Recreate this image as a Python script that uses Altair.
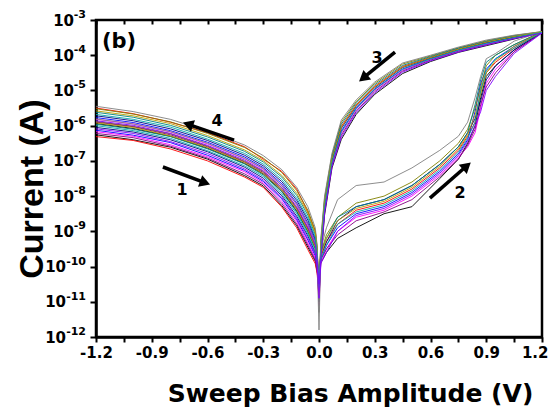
import altair as alt
import pandas as pd

# ---------------- data (log10 of current, A) ----------------
NEG_V = [-1.2, -1.0, -0.8, -0.6, -0.4, -0.3, -0.2, -0.12, -0.06, -0.02, -0.01]
UP_V = [0.01, 0.04, 0.1, 0.2, 0.35, 0.5, 0.65, 0.75, 0.8, 0.84, 0.87, 0.9, 0.95, 1.05, 1.2]
DOWN_V = [1.05, 0.9, 0.75, 0.6, 0.45, 0.3, 0.2, 0.12, 0.07, 0.03, 0.01]

# sweep 1: -1.2 V -> 0 V
B1_EXP = [
    [-6.26, -6.40, -6.61, -6.95, -7.42, -7.71, -8.27, -8.84, -9.45, -9.85, -10.16],
    [-6.31, -6.42, -6.66, -7.00, -7.46, -7.75, -8.31, -8.90, -9.52, -9.92, -10.20],
    [-6.13, -6.27, -6.48, -6.84, -7.27, -7.58, -8.08, -8.67, -9.25, -9.70, -10.04],
    [-6.17, -6.30, -6.54, -6.88, -7.31, -7.62, -8.15, -8.72, -9.33, -9.76, -10.08],
    [-5.88, -6.02, -6.23, -6.58, -7.01, -7.30, -7.77, -8.33, -8.91, -9.40, -9.80],
    [-6.05, -6.18, -6.40, -6.74, -7.18, -7.49, -7.99, -8.57, -9.13, -9.61, -9.96],
    [-6.22, -6.34, -6.58, -6.92, -7.37, -7.66, -8.21, -8.79, -9.39, -9.81, -10.12],
    [-5.96, -6.10, -6.31, -6.66, -7.09, -7.40, -7.88, -8.45, -9.02, -9.50, -9.88],
    [-5.81, -5.95, -6.17, -6.50, -6.93, -7.22, -7.70, -8.23, -8.80, -9.33, -9.74],
    [-5.92, -6.05, -6.29, -6.62, -7.05, -7.36, -7.83, -8.38, -8.97, -9.45, -9.84],
    [-6.00, -6.14, -6.36, -6.71, -7.14, -7.44, -7.94, -8.50, -9.08, -9.56, -9.92],
    [-6.09, -6.22, -6.45, -6.79, -7.23, -7.54, -8.04, -8.62, -9.20, -9.65, -10.00],
]
# sweep 2: 0 V -> 1.2 V (high-resistance branch)
B2_EXP = [
    [-9.9, -9.6, -9.2, -8.9, -8.5, -8.3, -7.5, -6.95, -6.5, -6.0, -5.2, -4.6, -4.3, -3.85, -3.35],
    [-9.7, -9.3, -8.8, -8.4, -8.2, -7.8, -7.2, -6.7, -6.3, -5.9, -5.0, -4.5, -4.2, -3.8, -3.35],
    [-9.8, -9.4, -8.9, -8.5, -8.3, -7.9, -7.3, -6.8, -6.4, -5.6, -4.8, -4.4, -4.1, -3.75, -3.34],
    [-9.9, -9.5, -9.0, -8.6, -8.4, -8.0, -7.4, -6.9, -6.6, -6.2, -5.5, -4.8, -4.4, -3.9, -3.36],
    [-9.6, -9.1, -8.6, -8.2, -8.0, -7.6, -7.0, -6.5, -6.1, -5.5, -4.9, -4.3, -4.0, -3.7, -3.33],
    [-9.7, -9.3, -8.7, -8.3, -8.1, -7.7, -7.1, -6.6, -6.2, -5.8, -5.3, -4.7, -4.3, -3.85, -3.35],
    [-9.8, -9.5, -9.1, -8.7, -8.45, -8.1, -7.45, -6.95, -6.55, -6.1, -5.4, -4.9, -4.5, -3.9, -3.36],
    [-9.6, -9.2, -8.6, -8.3, -8.1, -7.7, -7.1, -6.6, -6.2, -5.4, -4.7, -4.2, -4.0, -3.7, -3.34],
    [-9.5, -8.9, -8.1, -7.7, -7.6, -7.2, -6.7, -6.3, -5.9, -5.2, -4.6, -4.1, -3.95, -3.6, -3.33],
    [-9.7, -9.2, -8.7, -8.35, -8.15, -7.75, -7.15, -6.65, -6.25, -5.7, -5.1, -4.5, -4.15, -3.75, -3.34],
    [-9.8, -9.4, -8.8, -8.45, -8.25, -7.85, -7.25, -6.75, -6.35, -5.9, -5.0, -4.45, -4.1, -3.8, -3.35],
    [-9.9, -9.6, -9.0, -8.55, -8.35, -7.95, -7.35, -6.85, -6.45, -6.0, -5.6, -5.0, -4.6, -3.95, -3.37],
]
# sweep 3: 1.2 V -> 0 V (low-resistance branch)
B3_EXP = [
    [-3.54, -3.73, -3.92, -4.18, -4.52, -5.11, -5.68, -6.39, -7.20, -8.54, -9.83],
    [-3.47, -3.62, -3.82, -4.06, -4.32, -4.88, -5.41, -6.02, -6.92, -8.18, -9.41],
    [-3.49, -3.66, -3.86, -4.10, -4.39, -4.96, -5.50, -6.15, -7.02, -8.30, -9.55],
    [-3.50, -3.68, -3.87, -4.12, -4.42, -4.99, -5.54, -6.21, -7.06, -8.36, -9.62],
    [-3.44, -3.59, -3.79, -4.02, -4.25, -4.80, -5.32, -5.90, -6.83, -8.06, -9.27],
    [-3.48, -3.64, -3.84, -4.08, -4.35, -4.92, -5.45, -6.08, -6.97, -8.24, -9.48],
    [-3.51, -3.70, -3.89, -4.14, -4.45, -5.03, -5.59, -6.27, -7.11, -8.42, -9.69],
    [-3.45, -3.61, -3.80, -4.04, -4.29, -4.84, -5.36, -5.96, -6.87, -8.12, -9.34],
    [-3.43, -3.57, -3.77, -4.00, -4.22, -4.76, -5.27, -5.84, -6.78, -8.00, -9.20],
    [-3.47, -3.63, -3.83, -4.07, -4.34, -4.90, -5.43, -6.05, -6.94, -8.21, -9.45],
    [-3.50, -3.67, -3.86, -4.11, -4.40, -4.97, -5.52, -6.18, -7.04, -8.33, -9.59],
    [-3.53, -3.71, -3.91, -4.16, -4.48, -5.07, -5.63, -6.33, -7.16, -8.48, -9.76],
]
# sweep 4: 0 V -> -1.2 V (listed at NEG_V, swept in reverse)
B4_EXP = [
    [-5.94, -6.08, -6.30, -6.64, -7.07, -7.37, -7.86, -8.42, -9.00, -9.48, -9.86],
    [-5.50, -5.66, -5.90, -6.20, -6.60, -6.95, -7.30, -7.80, -8.45, -9.00, -9.50],
    [-5.77, -5.91, -6.14, -6.47, -6.89, -7.19, -7.65, -8.19, -8.76, -9.28, -9.70],
    [-5.82, -5.95, -6.18, -6.52, -6.94, -7.24, -7.70, -8.24, -8.82, -9.33, -9.74],
    [-5.52, -5.67, -5.89, -6.22, -6.62, -6.92, -7.33, -7.84, -8.40, -8.98, -9.46],
    [-5.72, -5.86, -6.09, -6.42, -6.84, -7.14, -7.59, -8.12, -8.68, -9.22, -9.66],
    [-5.90, -6.03, -6.26, -6.60, -7.03, -7.33, -7.81, -8.36, -8.94, -9.43, -9.82],
    [-5.62, -5.76, -5.99, -6.32, -6.73, -7.03, -7.46, -7.98, -8.54, -9.10, -9.56],
    [-5.45, -5.60, -5.82, -6.15, -6.55, -6.85, -7.25, -7.75, -8.30, -8.90, -9.40],
    [-5.58, -5.72, -5.94, -6.28, -6.69, -6.99, -7.41, -7.92, -8.48, -9.05, -9.52],
    [-5.68, -5.82, -6.04, -6.38, -6.79, -7.09, -7.53, -8.06, -8.62, -9.17, -9.62],
    [-5.86, -5.99, -6.22, -6.56, -6.98, -7.28, -7.75, -8.30, -8.88, -9.38, -9.78],
]
ZERO_FWD = [-10.6, -10.9, -10.5, -11.1, -10.4, -10.7, -10.5, -10.8, -11.8, -10.6, -10.4, -10.9]
ZERO_REV = [-10.5, -10.7, -10.9, -10.4, -10.6, -11.0, -10.5, -10.7, -11.3, -10.8, -10.6, -10.5]

CURVES = [f"c{i:02d}" for i in range(12)]
COLORS = ["#000000", "#FF0000", "#0000FF", "#FF00FF", "#808000", "#000080",
          "#800080", "#008080", "#808080", "#B8A000", "#00A8A8", "#8000FF"]

# annotation arrows (tail -> head), data coordinates
ARROW_ID = ["1", "4", "3", "2"]
ARROW_X0 = [-0.840, -0.457, 0.409, 0.597]
ARROW_Y0 = [6.7e-8, 3.9e-7, 1.23e-4, 8.8e-9]
ARROW_X1 = [-0.622, -0.696, 0.245, 0.788]
ARROW_Y1 = [2.5e-8, 1.05e-6, 2.42e-5, 6.7e-8]
ARROW_ANGLE = [110, 289, 231, 49]
LABEL_X = [-0.737, -0.549, 0.312, 0.759]
LABEL_Y = [1.48e-8, 1.35e-6, 8.3e-5, 1.23e-8]

PANEL_TEXT = ["(b)"]
PANEL_X = [-1.168]
PANEL_Y = [1.6e-4]

X_TICKS = [-1.2, -1.05, -0.9, -0.75, -0.6, -0.45, -0.3, -0.15, 0.0,
           0.15, 0.3, 0.45, 0.6, 0.75, 0.9, 1.05, 1.2]
Y_TICK_EXP = [-12, -11, -10, -9, -8, -7, -6, -5, -4, -3]

# ---------------- build tables ----------------
rows = []
for ci, name in enumerate(CURVES):
    seq = 0
    pts = list(zip(NEG_V, B1_EXP[ci])) + [(0.0, ZERO_FWD[ci])] + list(zip(UP_V, B2_EXP[ci])) \
        + list(zip(DOWN_V, B3_EXP[ci])) + [(0.0, ZERO_REV[ci])] \
        + list(zip(NEG_V[::-1], B4_EXP[ci][::-1]))
    for v, e in pts:
        rows.append({"curve": name, "seq": seq, "V": v, "I": 10.0 ** e})
        seq += 1
curves_df = pd.DataFrame(rows)

arrows_df = pd.DataFrame({"id": ARROW_ID, "x0": ARROW_X0, "y0": ARROW_Y0,
                          "x1": ARROW_X1, "y1": ARROW_Y1, "ang": ARROW_ANGLE,
                          "lx": LABEL_X, "ly": LABEL_Y})
panel_df = pd.DataFrame({"t": PANEL_TEXT, "x": PANEL_X, "y": PANEL_Y})
ylab_df = pd.DataFrame({"v": [10.0 ** e for e in Y_TICK_EXP],
                        "base": ["10"] * len(Y_TICK_EXP),
                        "ex": [str(e) for e in Y_TICK_EXP],
                        "two": [abs(e) >= 10 for e in Y_TICK_EXP]})

x_label_expr = ("abs(datum.value*10/3 - round(datum.value*10/3)) < 0.01 ? "
                "replace(format(datum.value, '.1f'), '\u2212', '-') : ''")

xs = alt.Scale(domain=[-1.2, 1.2], nice=False, zero=False)
ys = alt.Scale(type="log", domain=[1e-12, 1e-3], nice=False)
FONT = "DejaVu Sans"

lines = alt.Chart(curves_df).mark_line(strokeWidth=0.9, clip=True).encode(
    x=alt.X("V:Q", scale=xs, axis=alt.Axis(
        values=X_TICKS, labelExpr=x_label_expr, tickSize=5, labelPadding=3,
        labelAlign={"condition": {"test": "datum.value > 1.19", "value": "right"}, "value": "center"},
        labelOffset={"condition": {"test": "datum.value > 1.19", "value": 6}, "value": 0},
        title="Sweep Bias Amplitude (V)", titleFontSize=25, titleX=254, titleY=64,
        titleAlign="center", titleBaseline="alphabetic", labelFlush=False)),
    y=alt.Y("I:Q", scale=ys, axis=alt.Axis(
        values=[10.0 ** e for e in Y_TICK_EXP], labels=False, tickSize=6,
        title="Current (A)", titleFont="Liberation Sans", titleFontSize=34,
        titleX=-54, titleY=168.5, titleAngle=270,
        titleAlign="center", titleBaseline="alphabetic")),
    color=alt.Color("curve:N", scale=alt.Scale(domain=CURVES, range=COLORS), legend=None),
    order=alt.Order("seq:Q"),
)

shafts = alt.Chart(arrows_df).mark_rule(strokeWidth=3.5, color="black").encode(
    x=alt.X("x0:Q", scale=xs, axis=alt.Axis(orient="top", values=X_TICKS, labels=False,
                                            domain=False, tickSize=4, offset=-4, title=None)),
    y=alt.Y("y0:Q", scale=ys, axis=None),
    x2="x1:Q", y2="y1:Q",
)

heads = alt.Chart(arrows_df).mark_point(shape="triangle", filled=True, color="black",
                                        opacity=1, size=150).encode(
    x=alt.X("x1:Q", scale=xs, axis=None),
    y=alt.Y("y1:Q", scale=ys, axis=None),
    angle=alt.Angle("ang:Q", scale=None),
)

nums = alt.Chart(arrows_df).mark_text(font=FONT, fontWeight="bold", fontSize=16,
                                      color="black", baseline="middle", align="center").encode(
    x=alt.X("lx:Q", scale=xs, axis=None),
    y=alt.Y("ly:Q", scale=ys, axis=None),
    text="id:N",
)

panel = alt.Chart(panel_df).mark_text(font=FONT, fontWeight="bold", fontSize=21,
                                      color="black", baseline="alphabetic", align="left").encode(
    x=alt.X("x:Q", scale=xs, axis=None),
    y=alt.Y("y:Q", scale=ys, axis=None),
    text="t:N",
)

# y tick labels: "10" with a raised exponent
ylab_base = alt.Chart(ylab_df)
base_one = ylab_base.transform_filter("!datum.two").mark_text(
    font=FONT, fontWeight="bold", fontSize=15, color="black", align="right",
    baseline="alphabetic", dy=5.5).encode(
    x=alt.value(-22), y=alt.Y("v:Q", scale=ys, axis=None), text="base:N")
base_two = ylab_base.transform_filter("datum.two").mark_text(
    font=FONT, fontWeight="bold", fontSize=15, color="black", align="right",
    baseline="alphabetic", dy=5.5).encode(
    x=alt.value(-30), y=alt.Y("v:Q", scale=ys, axis=None), text="base:N")
expo = ylab_base.mark_text(
    font=FONT, fontWeight="bold", fontSize=11, color="black", align="right",
    baseline="alphabetic", dy=-2).encode(
    x=alt.value(-10), y=alt.Y("v:Q", scale=ys, axis=None), text="ex:N")

chart = alt.layer(lines, shafts, heads, nums, panel, base_one, base_two, expo).resolve_axis(
    x="independent", y="independent"
).properties(
    width=446, height=317,
    autosize=alt.AutoSizeParams(type="none"),
    padding={"left": 88, "top": 12, "right": 6, "bottom": 75},
).configure_view(
    stroke="black", strokeWidth=2.5
).configure_axis(
    domainColor="black", domainWidth=2.5, tickColor="black", tickWidth=2, grid=False,
    labelFont=FONT, labelFontWeight="bold", labelFontSize=15, labelColor="black",
    titleFont=FONT, titleFontWeight="bold", titleColor="black",
)

chart.save("out.html", embed_options={"renderer": "svg", "actions": False})
